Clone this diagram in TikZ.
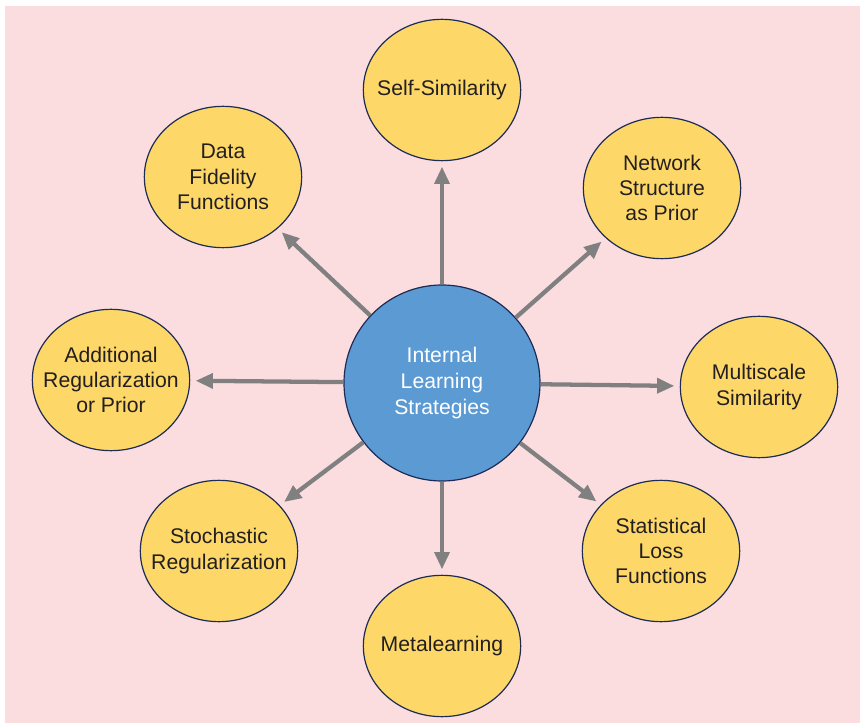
\documentclass[tikz,border=0pt]{standalone}
\usepackage{fontspec}
\setmainfont{Liberation Sans}
\usepackage{xcolor}
\usetikzlibrary{positioning, shapes.geometric, arrows.meta}

\definecolor{bgpink}{HTML}{FBDDE0}
\definecolor{topicyellow}{HTML}{FDD869}
\definecolor{hubblue}{HTML}{5B9AD3}
\definecolor{rimnavy}{HTML}{1D2B55}
\definecolor{arrowgray}{HTML}{808080}
\definecolor{textdark}{HTML}{231F20}

\begin{document}
\begin{tikzpicture}[x=0.75pt,y=-0.75pt]
	\tikzstyle{topic}=[ellipse,draw=rimnavy,line width=0.9pt,fill=topicyellow,
		minimum width=118pt,minimum height=106pt,inner sep=-24pt,align=center,
		text=textdark,font=\fontsize{15.9}{19}\selectfont]
	\tikzstyle{hub}=[circle,draw=rimnavy,line width=0.9pt,fill=hubblue,
		minimum size=147pt,inner sep=0pt,align=center,text=white,
		font=\fontsize{15.9}{19.5}\selectfont]
	\tikzstyle{link}=[arrowgray,line width=3.2pt,shorten >=4pt,
		-{Triangle[length=13pt,width=11pt]}]
	% page and backdrop
	\useasboundingbox (0,0) rectangle (860,723);
	\fill[bgpink] (5,6) rectangle (860,723);
	% hub
	\node[hub](ils) at (442,383) {Internal\\Learning\\Strategies};
	% topics around the hub
	\node[topic](selfsim) at (442,90) {Self-Similarity};
	\node[topic](fidelity) at (223,177) {Data\\Fidelity\\Functions};
	\node[topic](netprior) at (662,188) {Network\\Structure\\as Prior};
	\node[topic](addreg) at (111,380) {Additional\\Regularization\\or Prior};
	\node[topic](multiscale) at (759,387) {Multiscale\\Similarity};
	\node[topic](stochreg) at (219,551) {Stochastic\\Regularization};
	\node[topic](statloss) at (661,551) {Statistical\\Loss\\Functions};
	\node[topic](metalearn) at (442,646) {Metalearning};
	% spokes
	\foreach \t in {selfsim,fidelity,netprior,addreg,multiscale,stochreg,statloss,metalearn}
		\draw[link](ils) -- (\t);
\end{tikzpicture}
\end{document}
